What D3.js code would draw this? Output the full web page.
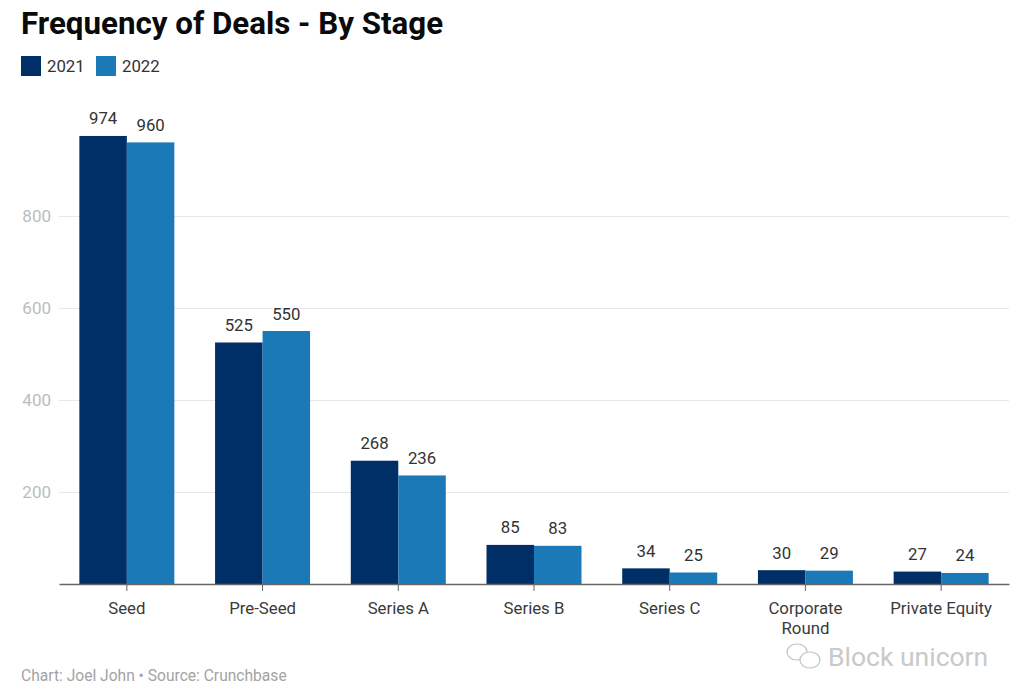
<!DOCTYPE html>
<html>
<head>
<meta charset="utf-8">
<script src="https://cdn.jsdelivr.net/npm/d3@7/dist/d3.min.js"></script>
<style>
	html, body { margin: 0; padding: 0; background: #fff; }
	svg { display: block; font-family: Roboto, sans-serif; }
	.yAxis text { fill: #b9bdc0; font-size: 17px; font-family: Roboto, sans-serif; }
	.xAxis text { fill: #3a3a3a; font-size: 16.8px; font-family: Roboto, sans-serif; }
</style>
</head>
<body>
<div id="plot"></div>
<script>
	// chart data
	const stages = ["Seed", "Pre-Seed", "Series A", "Series B", "Series C", "Corporate Round", "Private Equity"];
	const deals2021 = [974, 525, 268, 85, 34, 30, 27];
	const deals2022 = [960, 550, 236, 83, 25, 29, 24];
	const yTicks = [200, 400, 600, 800];
	const seriesNames = ["2021", "2022"];
	const seriesColors = ["#002e67", "#1c79b7"];

	const w = 1019;
	const h = 699;
	const margin = {top: 124, right: 10, bottom: 115, left: 59};
	const innerWidth = w - margin.left - margin.right;
	const innerHeight = h - margin.top - margin.bottom;

	const svg = d3.select("div#plot")
		.append("svg")
		.attr("width", w)
		.attr("height", h);

	const xScale = d3.scaleBand()
		.domain(stages)
		.range([0, innerWidth])
		.paddingInner(.3)
		.paddingOuter(.15);

	const xInner = d3.scaleBand()
		.domain(seriesNames)
		.range([0, xScale.bandwidth()]);

	const yScale = d3.scaleLinear()
		.domain([0, 1000])
		.range([innerHeight, 0]);

	const plot = svg.append("g")
		.attr("transform", `translate (${margin.left}, ${margin.top})`);

	// gridlines and y labels
	const yAxis = d3.axisLeft()
		.scale(yScale)
		.tickValues(yTicks)
		.tickSize(-innerWidth)
		.tickPadding(8);

	const yG = plot.append("g")
		.attr("class", "yAxis")
		.call(yAxis);
	yG.select(".domain").remove();
	yG.selectAll("line").attr("stroke", "#e8e8e8");

	// bars, one group per year
	const series = [deals2021, deals2022];
	series.forEach(function (values, i) {
		const name = seriesNames[i];
		const rows = stages.map((s, j) => ({stage: s, value: values[j]}));

		plot.append("g")
			.selectAll("rect")
			.data(rows)
			.enter().append("rect")
			.attr("x", d => xScale(d.stage) + xInner(name))
			.attr("y", d => yScale(d.value))
			.attr("width", xInner.bandwidth())
			.attr("height", d => innerHeight - yScale(d.value))
			.attr("fill", seriesColors[i]);

		plot.append("g")
			.selectAll("text")
			.data(rows)
			.enter().append("text")
			.attr("x", d => xScale(d.stage) + xInner(name) + xInner.bandwidth() / 2)
			.attr("y", d => yScale(d.value) - 11.5)
			.attr("text-anchor", "middle")
			.attr("font-size", 16.8)
			.attr("fill", "#333")
			.text(d => d.value);
	});

	// x axis
	const xAxis = d3.axisBottom()
		.scale(xScale)
		.tickSizeInner(7)
		.tickSizeOuter(0)
		.tickPadding(11);

	const xG = plot.append("g")
		.attr("class", "xAxis")
		.attr("transform", `translate (0, ${innerHeight})`)
		.call(xAxis);
	xG.select(".domain").attr("stroke", "#666").attr("stroke-width", 1.5);
	xG.selectAll(".tick line").attr("stroke", "#666");

	// the long label wraps on two lines
	xG.selectAll(".tick text").each(function (d) {
		if (d !== "Corporate Round") return;
		const t = d3.select(this);
		const y = t.attr("y");
		t.text(null);
		t.append("tspan").attr("x", 0).attr("y", y).attr("dy", "0.71em").text("Corporate");
		t.append("tspan").attr("x", 0).attr("y", y).attr("dy", "1.89em").text("Round");
	});

	// title
	svg.append("text")
		.attr("x", 21)
		.attr("y", 34)
		.attr("font-size", 31.3)
		.attr("font-weight", 700)
		.attr("fill", "#0a0a0a")
		.text("Frequency of Deals - By Stage");

	// legend
	const legendX = [21, 96];
	seriesNames.forEach(function (name, i) {
		svg.append("rect")
			.attr("x", legendX[i])
			.attr("y", 56)
			.attr("width", 20)
			.attr("height", 20)
			.attr("fill", seriesColors[i]);
		svg.append("text")
			.attr("x", legendX[i] + 26)
			.attr("y", 72)
			.attr("font-size", 16.8)
			.attr("fill", "#333")
			.text(name);
	});

	// footer
	svg.append("text")
		.attr("x", 21)
		.attr("y", 681)
		.attr("font-size", 15.6)
		.attr("fill", "#a3a3a3")
		.text("Chart: Joel John \u2022 Source: Crunchbase");

	// watermark
	const mark = svg.append("g")
		.attr("fill", "none")
		.attr("stroke", "#c4c4c4")
		.attr("stroke-width", 1.2);
	mark.append("ellipse").attr("cx", 797).attr("cy", 652).attr("rx", 10).attr("ry", 8);
	mark.append("ellipse").attr("cx", 810).attr("cy", 660).attr("rx", 10).attr("ry", 8).attr("fill", "#fff");
	svg.append("text")
		.attr("x", 828)
		.attr("y", 666)
		.attr("font-size", 26.5)
		.attr("fill", "#c9c9c9")
		.text("Block unicorn");
</script>
</body>
</html>
